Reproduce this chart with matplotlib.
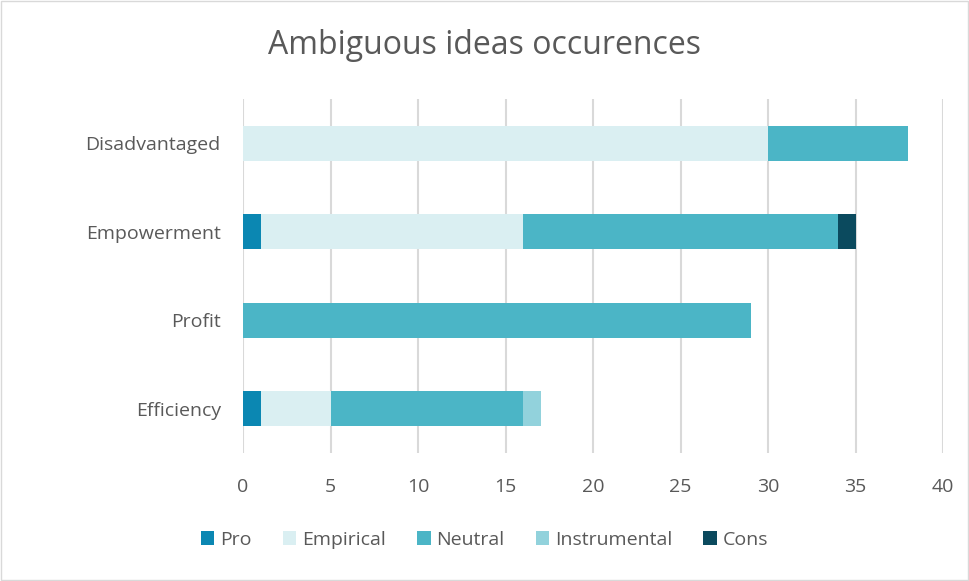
import matplotlib
matplotlib.use("Agg")
import matplotlib.pyplot as plt
import numpy as np

plt.rcParams["font.family"] = ["Open Sans", "DejaVu Sans"]

categories = ["Efficiency", "Profit", "Empowerment", "Disadvantaged"]
series = ["Pro", "Empirical", "Neutral", "Instrumental", "Cons"]
pro = [1, 0, 1, 0]
empirical = [4, 0, 15, 30]
neutral = [11, 29, 18, 8]
instrumental = [1, 0, 0, 0]
cons = [0, 0, 1, 0]
colors = ["#0B87B2", "#DAEFF2", "#4BB5C6", "#92D2DC", "#0B4A5E"]
x_ticks = [0, 5, 10, 15, 20, 25, 30, 35, 40]

text_color = "#595959"

fig = plt.figure(figsize=(9.69, 5.81), dpi=100)
ax = fig.add_axes([243 / 969, 1 - 453 / 581, 700 / 969, 354 / 581])

y = np.arange(len(categories))
left = np.zeros(len(categories))
for name, vals, col in zip(series, [pro, empirical, neutral, instrumental, cons], colors):
    ax.barh(y, vals, left=left, height=0.4, color=col, label=name, zorder=3)
    left += np.array(vals)

ax.set_xlim(0, 40)
ax.set_ylim(-0.5, len(categories) - 0.5)
ax.set_xticks(x_ticks)
ax.set_yticks(y)
ax.set_yticklabels(categories)
ax.tick_params(length=0, labelsize=14, colors=text_color)
ax.tick_params(axis="y", pad=16)
ax.tick_params(axis="x", pad=18)
ax.grid(axis="x", color="#D9D9D9", linewidth=1.5, zorder=0)
for s in ax.spines.values():
    s.set_visible(False)

fig.text(0.5, 1 - 46 / 581, "Ambiguous ideas occurences", ha="center", va="center",
         fontsize=23, color=text_color)

handles, labels = ax.get_legend_handles_labels()
fig.legend(handles, labels, loc="center", bbox_to_anchor=(0.5, 1 - 540 / 581), ncol=5,
           frameon=False, fontsize=14, labelcolor=text_color, handlelength=0.7,
           handleheight=0.7, handletextpad=0.3, columnspacing=1.6)

border = plt.Rectangle((0.001, 0.001), 0.998, 0.997, transform=fig.transFigure,
                       fill=False, edgecolor="#D9D9D9", linewidth=1)
fig.patches.append(border)

fig.savefig("out.png", dpi=100)
